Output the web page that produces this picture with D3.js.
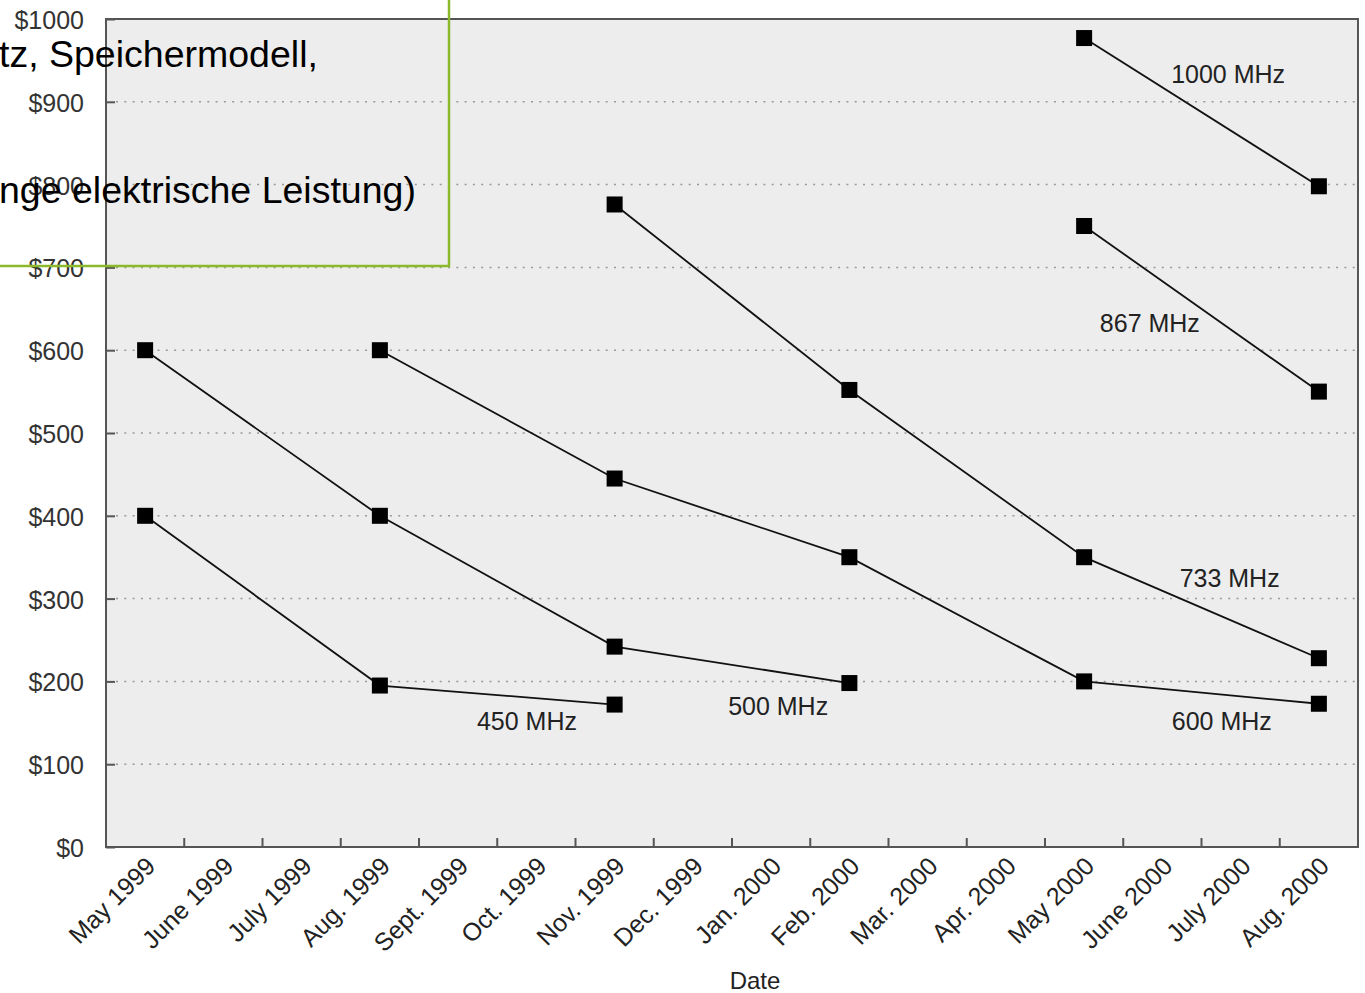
<!DOCTYPE html>
<html>
<head>
<meta charset="utf-8">
<script src="https://cdn.jsdelivr.net/npm/d3@7"></script>
<style>
  html, body { margin: 0; padding: 0; background: #fff; overflow: hidden; }
  svg { display: block; }
</style>
</head>
<body>
<svg id="chart" width="1365" height="993"></svg>
<script>
// month categories on the x axis
var months = ["May 1999", "June 1999", "July 1999", "Aug. 1999", "Sept. 1999", "Oct. 1999",
              "Nov. 1999", "Dec. 1999", "Jan. 2000", "Feb. 2000", "Mar. 2000", "Apr. 2000",
              "May 2000", "June 2000", "July 2000", "Aug. 2000"];
var priceTicks = [0, 100, 200, 300, 400, 500, 600, 700, 800, 900, 1000];

// one entry per processor speed
var seriesNames = ["450 MHz", "500 MHz", "600 MHz", "733 MHz", "867 MHz", "1000 MHz"];
var seriesDates = [
  ["May 1999", "Aug. 1999", "Nov. 1999"],
  ["May 1999", "Aug. 1999", "Nov. 1999", "Feb. 2000"],
  ["Aug. 1999", "Nov. 1999", "Feb. 2000", "May 2000", "Aug. 2000"],
  ["Nov. 1999", "Feb. 2000", "May 2000", "Aug. 2000"],
  ["May 2000", "Aug. 2000"],
  ["May 2000", "Aug. 2000"]
];
var seriesPrices = [
  [400, 195, 172],
  [600, 400, 242, 198],
  [600, 445, 350, 200, 173],
  [776, 552, 350, 228],
  [750, 550],
  [977, 798]
];
// where each series label sits (month index, price)
var labelMonth = [5.38, 8.59, 14.26, 14.36, 13.34, 14.34];
var labelPrice = [141, 159, 141, 314, 622, 923];

var overlayLines = ["tz, Speichermodell,", "nge elektrische Leistung)"];

var drawChart = function(svgName){
  var svg = d3.select("#" + svgName),
      pLeft = 106, pRight = 1358, pTop = 19, pBottom = 847,
      font = "'Liberation Sans', Arial, Helvetica, sans-serif";

  var x = d3.scaleBand().domain(months).range([pLeft, pRight]).padding(0);
  var xi = d3.scaleLinear().domain([0, months.length]).range([pLeft, pRight]);
  var y = d3.scaleLinear().domain([0, 1000]).range([pBottom, pTop]);

  // plot background
  svg.append("rect")
     .attr("x", pLeft).attr("y", pTop)
     .attr("width", pRight - pLeft).attr("height", pBottom - pTop)
     .attr("fill", "#ededed");

  // dotted grid
  svg.append("g").selectAll("line")
     .data(priceTicks.filter(function(d){ return d > 0 && d < 1000; }))
     .enter().append("line")
       .attr("x1", pLeft + 10).attr("x2", pRight)
       .attr("y1", function(d){ return y(d); })
       .attr("y2", function(d){ return y(d); })
       .attr("stroke", "#999")
       .attr("stroke-width", 1.5)
       .attr("stroke-dasharray", "2,6.3");

  // y axis
  var yAxis = svg.append("g")
     .attr("transform", "translate(" + pLeft + ",0)")
     .call(d3.axisRight(y).tickValues(priceTicks).tickSize(9).tickFormat(function(d){ return "$" + d; }));
  yAxis.select(".domain").remove();
  yAxis.selectAll(".tick line").attr("stroke", "#555").attr("stroke-width", 2);
  yAxis.selectAll(".tick text")
       .attr("x", -22).attr("text-anchor", "end").attr("dy", "0.38em")
       .attr("font-family", font).attr("font-size", "25px").attr("fill", "#333");

  // x axis: ticks between month bands, labels at band centers
  var xAxis = svg.append("g")
     .attr("transform", "translate(0," + pBottom + ")");
  xAxis.selectAll("line")
     .data(d3.range(1, months.length))
     .enter().append("line")
       .attr("x1", function(d){ return xi(d); })
       .attr("x2", function(d){ return xi(d); })
       .attr("y1", 0).attr("y2", -9)
       .attr("stroke", "#555").attr("stroke-width", 2);
  xAxis.selectAll("text")
     .data(months)
     .enter().append("text")
       .attr("transform", function(d){ return "translate(" + (x(d) + x.bandwidth() / 2 - 1) + ",8) rotate(-45)"; })
       .attr("text-anchor", "end")
       .attr("dy", "0.72em")
       .attr("font-family", font).attr("font-size", "25px").attr("fill", "#222")
       .text(function(d){ return d; });

  svg.append("text")
     .attr("x", 755).attr("y", 989)
     .attr("text-anchor", "middle")
     .attr("font-family", font).attr("font-size", "24px").attr("fill", "#222")
     .text("Date");

  // frame
  svg.append("rect")
     .attr("x", pLeft).attr("y", pTop)
     .attr("width", pRight - pLeft).attr("height", pBottom - pTop)
     .attr("fill", "none").attr("stroke", "#555").attr("stroke-width", 2);

  // series lines and markers
  var line = d3.line()
     .x(function(d){ return x(d[0]) + x.bandwidth() / 2; })
     .y(function(d){ return y(d[1]); });

  seriesNames.forEach(function(name, i){
    var pts = d3.zip(seriesDates[i], seriesPrices[i]);
    var g = svg.append("g").attr("class", "series");
    g.append("path")
     .attr("d", line(pts))
     .attr("fill", "none").attr("stroke", "#111").attr("stroke-width", 1.8);
    g.selectAll("rect")
     .data(pts)
     .enter().append("rect")
       .attr("x", function(d){ return x(d[0]) + x.bandwidth() / 2 - 8; })
       .attr("y", function(d){ return y(d[1]) - 8; })
       .attr("width", 16).attr("height", 16)
       .attr("fill", "#000");
    svg.append("text")
     .attr("x", xi(labelMonth[i])).attr("y", y(labelPrice[i]))
     .attr("text-anchor", "middle")
     .attr("font-family", font).attr("font-size", "25px").attr("fill", "#222")
     .text(name);
  });

  // overlay box drawn on top of the chart
  var ov = svg.append("g");
  ov.append("rect")
    .attr("x", -10).attr("y", -10).attr("width", 459).attr("height", 276)
    .attr("fill", "none").attr("stroke", "#8cb82c").attr("stroke-width", 2.5);
  ov.selectAll("text")
    .data(overlayLines)
    .enter().append("text")
      .attr("x", -1)
      .attr("y", function(d, i){ return 67 + i * 136; })
      .attr("font-family", font).attr("font-size", "37.5px").attr("fill", "#000")
      .text(function(d){ return d; });
};

drawChart("chart");
</script>
</body>
</html>
